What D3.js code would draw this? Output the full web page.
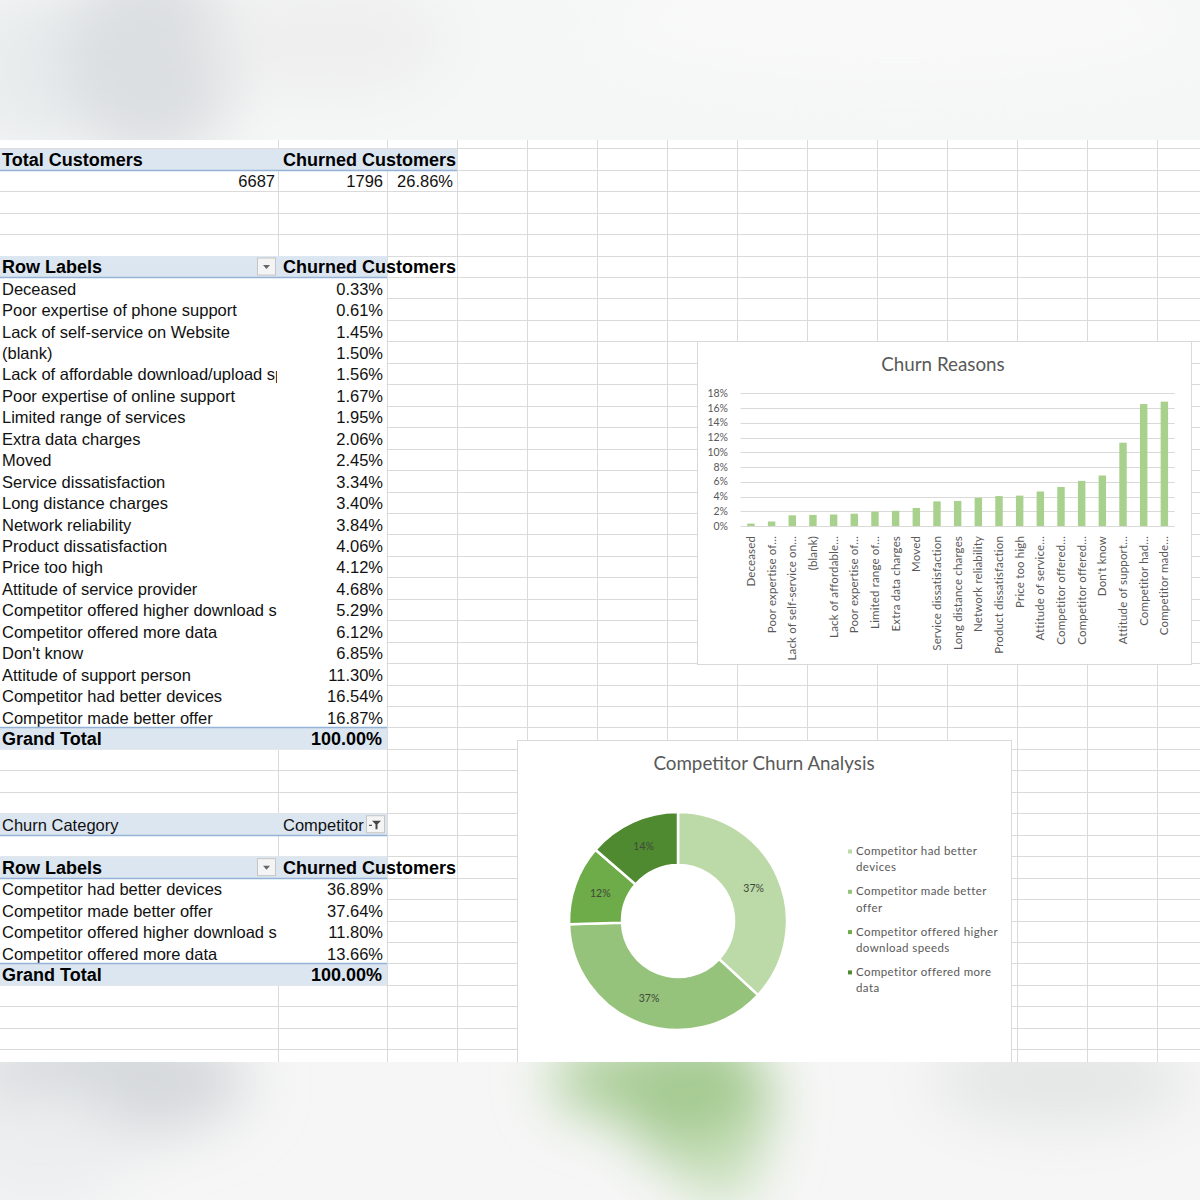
<!DOCTYPE html>
<html>
<head>
<meta charset="utf-8">
<script src="https://cdn.jsdelivr.net/npm/d3@7"></script>
<style>
body { margin: 0; background: #fff; }
svg { display: block; }
</style>
</head>
<body>
<script>
var w = 1200;
var h = 1200;

// summary pivot
var totalCustomers = 6687;
var churnedCustomers = 1796;
var churnRate = 26.86;

// churn reasons pivot (share of churned customers, %)
var reasons = ["Deceased", "Poor expertise of phone support", "Lack of self-service on Website", "(blank)",
    "Lack of affordable download/upload speed", "Poor expertise of online support", "Limited range of services",
    "Extra data charges", "Moved", "Service dissatisfaction", "Long distance charges", "Network reliability",
    "Product dissatisfaction", "Price too high", "Attitude of service provider",
    "Competitor offered higher download speeds", "Competitor offered more data", "Don't know",
    "Attitude of support person", "Competitor had better devices", "Competitor made better offer"];
var reasonShare = [0.33, 0.61, 1.45, 1.50, 1.56, 1.67, 1.95, 2.06, 2.45, 3.34, 3.40, 3.84, 4.06, 4.12,
    4.68, 5.29, 6.12, 6.85, 11.30, 16.54, 16.87];
var reasonTickLabels = ["Deceased", "Poor expertise of…", "Lack of self-service on…", "(blank)",
    "Lack of affordable…", "Poor expertise of…", "Limited range of…", "Extra data charges", "Moved",
    "Service dissatisfaction", "Long distance charges", "Network reliability", "Product dissatisfaction",
    "Price too high", "Attitude of service…", "Competitor offered…", "Competitor offered…", "Don't know",
    "Attitude of support…", "Competitor had…", "Competitor made…"];
var yTicks = [0, 2, 4, 6, 8, 10, 12, 14, 16, 18];
var grandTotal = 100.00;

// competitor pivot
var churnCategory = "Competitor";
var competitorReasons = ["Competitor had better devices", "Competitor made better offer",
    "Competitor offered higher download speeds", "Competitor offered more data"];
var competitorShare = [36.89, 37.64, 11.80, 13.66];
var donutLabels = ["37%", "37%", "12%", "14%"];

var sheetFont = "'Liberation Sans', Arial, sans-serif";
var chartFont = "Lato, 'Open Sans', sans-serif";
var bandFill = "#dce6f1";
var bandLine = "#95b3d7";
var gridColor = "#dadada";

var svg = d3.select("body")
    .append("svg")
    .attr("width", w)
    .attr("height", h);

var defs = svg.append("defs");
defs.append("filter").attr("id", "blur")
    .attr("x", "-50%").attr("y", "-50%").attr("width", "200%").attr("height", "200%")
    .append("feGaussianBlur").attr("stdDeviation", 28);
defs.append("clipPath").attr("id", "colA")
    .append("rect").attr("x", 0).attr("y", 0).attr("width", 277).attr("height", h);

// ---------- sheet grid ----------
var sheetTop = 140, sheetBottom = 1062;
var rowH = 21.45;
function rowTop(k) { return 148.3 + k * rowH; }
function baseline(k) { return rowTop(k) + 17.6; }

svg.append("rect").attr("x", 0).attr("y", sheetTop).attr("width", w)
    .attr("height", sheetBottom - sheetTop).attr("fill", "#fff");

var colLines = [278, 387, 457, 527, 597, 667, 737, 807, 877, 947, 1017, 1087, 1157];
var grid = svg.append("g").attr("stroke", gridColor).attr("stroke-width", 1);
d3.range(-1, 43).forEach(function(k) {
    var y = Math.round(rowTop(k)) + 0.5;
    if (y < sheetTop || y > sheetBottom) return;
    grid.append("line").attr("x1", 0).attr("x2", w).attr("y1", y).attr("y2", y);
});
colLines.forEach(function(x) {
    grid.append("line").attr("x1", x + 0.5).attr("x2", x + 0.5)
        .attr("y1", sheetTop).attr("y2", sheetBottom);
});

var tbl = svg.append("g").attr("font-family", sheetFont).attr("fill", "#111");

function whiteBlock(k0, k1) {
    tbl.append("rect").attr("x", 0).attr("y", rowTop(k0) + 0.5)
        .attr("width", 386.5).attr("height", rowTop(k1 + 1) - rowTop(k0))
        .attr("fill", "#fff");
}
function band(k, x1, lineAt) {
    tbl.append("rect").attr("x", 0).attr("y", rowTop(k) + 0.5)
        .attr("width", x1).attr("height", rowH).attr("fill", bandFill);
    var ly = (lineAt === "top" ? Math.round(rowTop(k)) : Math.round(rowTop(k + 1))) + 0.5;
    tbl.append("line").attr("x1", 0).attr("x2", x1).attr("y1", ly).attr("y2", ly)
        .attr("stroke", bandLine).attr("stroke-width", 1.3);
}
function txt(x, k, s, opts) {
    opts = opts || {};
    var t = tbl.append("text").attr("x", x).attr("y", baseline(k)).text(s)
        .attr("font-size", opts.bold ? 18 : 16.5)
        .attr("font-weight", opts.bold ? "bold" : "normal")
        .attr("text-anchor", opts.anchor || "start");
    if (opts.bold) t.attr("fill", "#000");
    if (opts.clip) t.attr("clip-path", "url(#colA)");
    return t;
}
function dropButton(x, k, kind) {
    var y = rowTop(k) + 2.5;
    var g = tbl.append("g");
    g.append("rect").attr("x", x + 0.5).attr("y", y).attr("width", 18).attr("height", 17)
        .attr("fill", "#f4f4f4").attr("stroke", "#c6c6c6");
    if (kind === "filter") {
        g.append("path").attr("d", "M" + (x + 6) + "," + (y + 5) + "h9 l-3.5,3.5 v5 h-2 v-5z")
            .attr("fill", "#444");
        g.append("rect").attr("x", x + 3).attr("y", y + 9).attr("width", 3).attr("height", 1.2).attr("fill", "#444");
    } else {
        g.append("path").attr("d", "M" + (x + 6) + "," + (y + 7) + "h7 l-3.5,4z").attr("fill", "#666");
    }
}
var pct = function(v) { return d3.format(".2f")(v) + "%"; };

// summary
band(0, 457, "bottom");
txt(2, 0, "Total Customers", {bold: true});
txt(283, 0, "Churned Customers", {bold: true});
txt(275, 1, totalCustomers, {anchor: "end"});
txt(383, 1, churnedCustomers, {anchor: "end"});
txt(453, 1, pct(churnRate), {anchor: "end"});

// churn reasons pivot
whiteBlock(5, 27);
band(5, 387, "bottom");
txt(2, 5, "Row Labels", {bold: true});
dropButton(257, 5, "drop");
txt(283, 5, "Churned Customers", {bold: true});
reasons.forEach(function(r, i) {
    txt(2, 6 + i, r, {clip: true});
    txt(383, 6 + i, pct(reasonShare[i]), {anchor: "end"});
});
band(27, 387, "top");
txt(2, 27, "Grand Total", {bold: true});
txt(382, 27, pct(grandTotal), {anchor: "end", bold: true});

// competitor pivot
whiteBlock(31, 31);
band(31, 387, "bottom");
txt(2, 31, "Churn Category");
txt(283, 31, churnCategory);
dropButton(366, 31, "filter");
whiteBlock(33, 38);
band(33, 387, "bottom");
txt(2, 33, "Row Labels", {bold: true});
dropButton(257, 33, "drop");
txt(283, 33, "Churned Customers", {bold: true});
competitorReasons.forEach(function(r, i) {
    txt(2, 34 + i, r, {clip: true});
    txt(383, 34 + i, pct(competitorShare[i]), {anchor: "end"});
});
band(38, 387, "top");
txt(2, 38, "Grand Total", {bold: true});
txt(382, 38, pct(grandTotal), {anchor: "end", bold: true});

// ---------- Churn Reasons bar chart ----------
var bar = svg.append("g").attr("font-family", chartFont);
bar.append("rect").attr("x", 697.5).attr("y", 341.5).attr("width", 494).attr("height", 323)
    .attr("fill", "#fff").attr("stroke", "#d9d9d9");
bar.append("text").attr("x", 943).attr("y", 371).attr("text-anchor", "middle")
    .attr("font-size", 18.8).attr("fill", "#595959").text("Churn Reasons");

var xScale = d3.scaleBand()
    .domain(reasons)
    .range([740.6, 1174.7])
    .paddingInner(0.64)
    .paddingOuter(0.32);
var yScale = d3.scaleLinear()
    .domain([0, 18])
    .range([526, 393.3]);

bar.append("g").selectAll("line").data(yTicks).enter().append("line")
    .attr("x1", 740.6).attr("x2", 1174.7)
    .attr("y1", function(d) { return Math.round(yScale(d)) + 0.5; })
    .attr("y2", function(d) { return Math.round(yScale(d)) + 0.5; })
    .attr("stroke", "#d9d9d9");
bar.append("g").selectAll("text").data(yTicks).enter().append("text")
    .attr("x", 728).attr("y", function(d) { return yScale(d); })
    .attr("dy", "0.35em").attr("text-anchor", "end")
    .attr("font-size", 10.5).attr("fill", "#595959")
    .text(function(d) { return d + "%"; });

bar.append("g").selectAll("rect").data(reasonShare).enter().append("rect")
    .attr("x", function(d, i) { return xScale(reasons[i]); })
    .attr("y", function(d) { return yScale(d); })
    .attr("width", xScale.bandwidth())
    .attr("height", function(d) { return yScale(0) - yScale(d); })
    .attr("fill", "#a9d18e");

bar.append("g").selectAll("text").data(reasonTickLabels).enter().append("text")
    .attr("transform", function(d, i) {
        return "translate(" + (xScale(reasons[i]) + xScale.bandwidth() / 2) + ",536) rotate(-90)";
    })
    .attr("dy", "0.35em").attr("text-anchor", "end")
    .attr("font-size", 11.5).attr("letter-spacing", 0.15).attr("fill", "#595959")
    .text(function(d) { return d; });

// ---------- Competitor Churn Analysis donut ----------
var donut = svg.append("g").attr("font-family", chartFont);
donut.append("rect").attr("x", 517.5).attr("y", 740.5).attr("width", 494).attr("height", 340)
    .attr("fill", "#fff").attr("stroke", "#d9d9d9");
donut.append("text").attr("x", 764).attr("y", 770).attr("text-anchor", "middle")
    .attr("font-size", 18.8).attr("fill", "#595959").text("Competitor Churn Analysis");

var donutColors = ["#bcd9a8", "#96c37b", "#6eab49", "#4f8a30"];
var pie = d3.pie().sort(null).value(function(d) { return d; });
var arc = d3.arc().innerRadius(56).outerRadius(109);
var ring = donut.append("g").attr("transform", "translate(678,921)");
var slices = pie(competitorShare);
ring.selectAll("path").data(slices).enter().append("path")
    .attr("d", arc)
    .attr("fill", function(d, i) { return donutColors[i]; })
    .attr("stroke", "#fff").attr("stroke-width", 2.5);
ring.selectAll("text").data(slices).enter().append("text")
    .attr("transform", function(d) { return "translate(" + arc.centroid(d) + ")"; })
    .attr("text-anchor", "middle").attr("dy", "0.35em")
    .attr("font-size", 10.5).attr("fill", "#3f4a3a")
    .text(function(d, i) { return donutLabels[i]; });

function wrapWords(s, maxChars) {
    var lines = [], cur = "";
    s.split(" ").forEach(function(word) {
        var next = cur ? cur + " " + word : word;
        if (next.length > maxChars && cur) { lines.push(cur); cur = word; }
        else cur = next;
    });
    lines.push(cur);
    return lines;
}
var legend = donut.append("g").attr("transform", "translate(848,855)");
competitorReasons.forEach(function(name, i) {
    var y = i * 40.3;
    legend.append("rect").attr("x", 0).attr("y", y - 5.5).attr("width", 4).attr("height", 4)
        .attr("fill", donutColors[i]);
    wrapWords(name, 25).forEach(function(line, j) {
        legend.append("text").attr("x", 8).attr("y", y + j * 16.3)
            .attr("font-size", 11.5).attr("letter-spacing", 0.4)
            .attr("fill", "#595959").text(line);
    });
});

// ---------- blurred photo surroundings ----------
function blurBand(y0, y1, base, blobs) {
    var cid = "clip" + y0;
    defs.append("clipPath").attr("id", cid).append("rect")
        .attr("x", 0).attr("y", y0).attr("width", w).attr("height", y1 - y0);
    var g = svg.append("g").attr("clip-path", "url(#" + cid + ")");
    g.append("rect").attr("x", 0).attr("y", y0).attr("width", w).attr("height", y1 - y0).attr("fill", base);
    var b = g.append("g").attr("filter", "url(#blur)");
    blobs.forEach(function(e) {
        b.append("ellipse").attr("cx", e[0]).attr("cy", e[1]).attr("rx", e[2]).attr("ry", e[3]).attr("fill", e[4]);
    });
}
blurBand(0, sheetTop, "#f5f6f6", [
    [30, 70, 70, 80, "#e8eced"],
    [150, 60, 90, 100, "#dcdfe1"],
    [330, 40, 120, 60, "#efefef"],
    [900, 20, 300, 60, "#f9f9f9"]
]);
blurBand(sheetBottom, h, "#f6f6f6", [
    [110, 1080, 140, 60, "#d6d9dc"],
    [40, 1150, 90, 60, "#eceeef"],
    [640, 1080, 90, 40, "#a9cd96"],
    [700, 1100, 70, 70, "#a3c98f"],
    [720, 1160, 40, 40, "#c3ddb4"],
    [1060, 1080, 130, 45, "#e4e5e5"]
]);
</script>
</body>
</html>
